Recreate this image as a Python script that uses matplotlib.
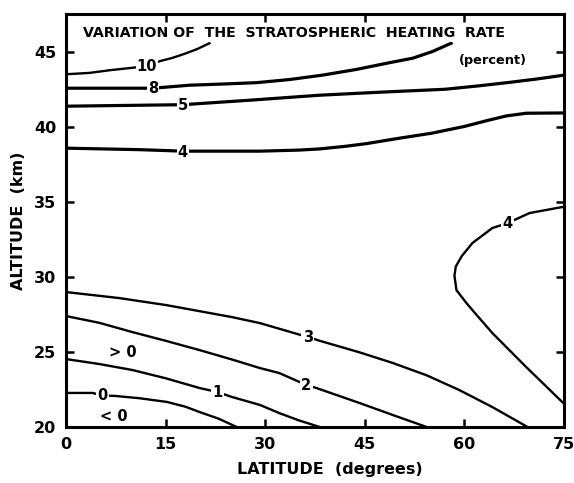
import matplotlib
matplotlib.use('Agg')
import matplotlib.pyplot as plt

# contour lines (latitude in degrees, altitude in km)
lat_10 = [0, 3.5, 6.6, 12.2, 14.1, 16.0, 17.9, 19.8, 21.6]
alt_10 = [43.53, 43.62, 43.8, 44.07, 44.4, 44.62, 44.9, 45.22, 45.6]

lat_8 = [0, 13.1, 18.6, 23.7, 28.7, 33.7, 38.6, 43.7, 48.7, 52.2, 55.2, 58.0]
alt_8 = [42.6, 42.6, 42.8, 42.88, 42.97, 43.18, 43.47, 43.85, 44.3, 44.6, 45.05, 45.6]

lat_5 = [0, 17.6, 27.7, 38.1, 47.1, 52.1, 57.1, 62.0, 67.0, 71.0, 75.0]
alt_5 = [41.4, 41.5, 41.8, 42.13, 42.33, 42.43, 42.53, 42.75, 43.0, 43.22, 43.47]

lat_4 = [0, 11.1, 17.6, 29.2, 35.0, 38.2, 42.0, 45.2, 50.0, 55.1, 60.0, 63.5, 66.3, 69.3, 75.0]
alt_4 = [38.6, 38.5, 38.4, 38.4, 38.47, 38.55, 38.72, 38.9, 39.25, 39.6, 40.05, 40.45, 40.75, 40.93, 40.95]

lat_4b = [75.0, 74.7, 69.8, 66.5, 64.2, 61.2, 59.6, 58.7, 58.5, 58.8, 60.3, 61.2, 64.2, 69.3, 75.0]
alt_4b = [34.65, 34.67, 34.27, 33.6, 33.27, 32.27, 31.4, 30.7, 30.1, 29.13, 28.27, 27.8, 26.27, 24.0, 21.55]

lat_3 = [0, 8.0, 15.1, 25.0, 29.2, 36.4, 38.2, 44.2, 49.2, 54.3, 59.2, 64.2, 69.5]
alt_3 = [29.0, 28.6, 28.13, 27.33, 26.93, 26.0, 25.75, 24.98, 24.27, 23.45, 22.47, 21.33, 20.0]

lat_2 = [0, 5.0, 10.0, 15.0, 20.1, 25.0, 29.2, 32.1, 36.2, 37.7, 44.2, 49.2, 54.3]
alt_2 = [27.4, 26.95, 26.33, 25.75, 25.13, 24.5, 23.93, 23.6, 22.8, 22.6, 21.6, 20.8, 20.0]

lat_1 = [0, 5.0, 10.0, 15.0, 20.1, 22.8, 25.0, 29.2, 32.1, 35.0, 38.2]
alt_1 = [24.53, 24.2, 23.8, 23.25, 22.6, 22.33, 22.0, 21.47, 20.93, 20.45, 20.0]

lat_0 = [0, 4.0, 5.5, 7.4, 11.0, 15.2, 18.0, 20.1, 23.0, 25.7]
alt_0 = [22.27, 22.27, 22.1, 22.07, 21.92, 21.67, 21.35, 21.0, 20.55, 20.0]

# contour labels: text, latitude, altitude
label_text = ['10', '8', '5', '4', '4', '3', '2', '1', '0']
label_lat = [12.2, 13.1, 17.6, 17.6, 66.5, 36.4, 36.2, 22.8, 5.5]
label_alt = [44.07, 42.6, 41.47, 38.33, 33.6, 26.0, 22.8, 22.33, 22.07]

plt.rcParams['font.family'] = ['DejaVu Sans']
plt.rcParams['font.weight'] = 'bold'

fig = plt.figure(figsize=(5.74, 4.83), dpi=100)
ax = fig.add_axes([0.115, 0.116, 0.8676, 0.855])

thick = 2.3
thin = 1.7
ax.plot(lat_10, alt_10, color='k', lw=thin)
ax.plot(lat_8, alt_8, color='k', lw=thick)
ax.plot(lat_5, alt_5, color='k', lw=thick)
ax.plot(lat_4, alt_4, color='k', lw=thick)
ax.plot(lat_4b, alt_4b, color='k', lw=thin)
ax.plot(lat_3, alt_3, color='k', lw=thin)
ax.plot(lat_2, alt_2, color='k', lw=thin)
ax.plot(lat_1, alt_1, color='k', lw=thin)
ax.plot(lat_0, alt_0, color='k', lw=thin)

for t, x, y in zip(label_text, label_lat, label_alt):
    ax.text(x, y, t, ha='center', va='center', fontsize=10.5, fontweight='bold',
            bbox=dict(facecolor='white', edgecolor='none', pad=0.8), zorder=5)

ax.text(8.6, 25.0, '> 0', ha='center', va='center', fontsize=10.5, fontweight='bold')
ax.text(7.2, 20.67, '< 0', ha='center', va='center', fontsize=10.5, fontweight='bold')

ax.text(2.5, 46.27, 'VARIATION OF  THE  STRATOSPHERIC  HEATING  RATE',
        ha='left', va='center', fontsize=10.2, fontweight='bold',
        bbox=dict(facecolor='white', edgecolor='none', pad=1.5), zorder=6)
ax.text(69.4, 44.47, '(percent)', ha='right', va='center', fontsize=9.3, fontweight='bold')

ax.set_xlim(0, 75)
ax.set_ylim(20, 47.55)
ax.set_xticks([0, 15, 30, 45, 60, 75])
ax.set_yticks([20, 25, 30, 35, 40, 45])
ax.tick_params(direction='in', top=True, right=True, length=6, width=1.8,
               labelsize=11.5, pad=7)
for lab in ax.get_xticklabels() + ax.get_yticklabels():
    lab.set_fontweight('bold')
for s in ax.spines.values():
    s.set_linewidth(2.2)

ax.set_xlabel('LATITUDE  (degrees)', fontsize=11.5, fontweight='bold', labelpad=6)
ax.set_ylabel('ALTITUDE  (km)', fontsize=11.5, fontweight='bold', labelpad=6)
ax.xaxis.set_label_coords(0.53, -0.085)

fig.savefig('out.png', dpi=100)
